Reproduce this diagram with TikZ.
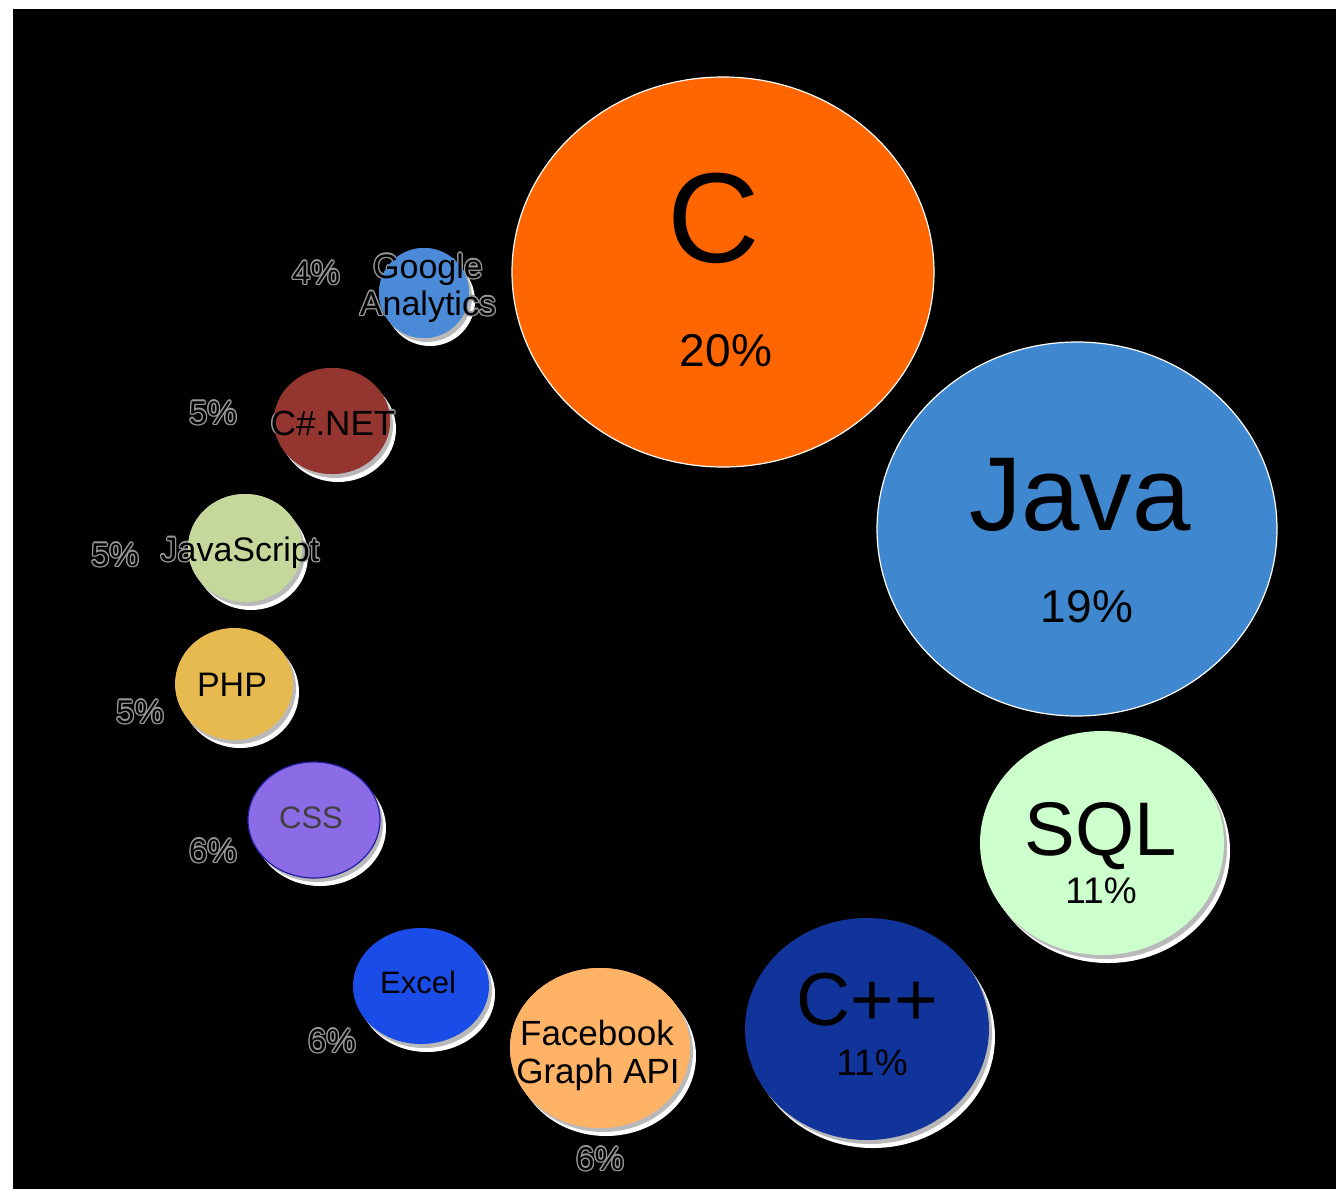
\documentclass[tikz,border=0pt]{standalone}
\usepackage{fontspec}
\setmainfont{Liberation Sans}
\definecolor{cC}{HTML}{FF6600}
\definecolor{cJava}{HTML}{3F88CF}
\definecolor{cSQL}{HTML}{CCFFCC}
\definecolor{cCpp}{HTML}{11349A}
\definecolor{cFB}{HTML}{FFB366}
\definecolor{cExcel}{HTML}{1A4CE8}
\definecolor{cCSS}{HTML}{8C6BE6}
\definecolor{cCSSline}{HTML}{2020A0}
\definecolor{cPHP}{HTML}{E6BA4E}
\definecolor{cJS}{HTML}{C5D79A}
\definecolor{cNET}{HTML}{943530}
\definecolor{cGA}{HTML}{4A8AD6}
\newcommand{\fsz}[1]{\fontsize{#1}{#1}\selectfont}
\tikzset{
  lbl/.style={anchor=base, inner sep=0pt, text=black},
  halo/.style={anchor=base, inner sep=0pt, text=gray!80},
  edge/.style={draw=white, line width=1.2pt},
}
% halo copies of a text: #1 x, #2 y, #3 size, #4 text
\newcommand{\halotext}[4]{%
  \foreach \dx/\dy in {-1.3/0,1.3/0,0/-1.3,0/1.3,-1/-1,1/1,-1/1,1/-1}{%
    \node[halo, font=\fsz{#3}] at (#1+\dx,#2+\dy) {#4};
  }%
}
\newcommand{\shadowed}[5]{%
  \fill[white] (#1+6,#2+8) ellipse [x radius=#3pt, y radius=#4pt];
  \fill[gray!55] (#1+3,#2+4) ellipse [x radius=#3pt, y radius=#4pt];
  \fill[#5] (#1,#2) ellipse [x radius=#3pt, y radius=#4pt];
}
\begin{document}
\begin{tikzpicture}[x=1pt,y=-1pt]
\useasboundingbox (0,0) rectangle (1336,1189);
\fill[white] (0,0) rectangle (1336,1189);
\fill[black] (13,9) rectangle (1336,1189);

% big bubbles
\fill[cC] (723,272) ellipse [x radius=211pt, y radius=195pt];
\draw[edge] (723,272) ellipse [x radius=211pt, y radius=195pt];
\fill[cJava] (1077,529) ellipse [x radius=200pt, y radius=187pt];
\draw[edge] (1077,529) ellipse [x radius=200pt, y radius=187pt];
\shadowed{1102}{843}{122}{112}{cSQL}
\shadowed{867}{1029}{122}{111}{cCpp}
\shadowed{600}{1048}{90}{80}{cFB}
\shadowed{421}{986}{68}{58}{cExcel}
\shadowed{314}{820}{66}{58}{cCSS}
\shadowed{234}{684}{59}{56}{cPHP}
\shadowed{245}{548}{57}{54}{cJS}
\shadowed{332}{421}{58}{53}{cNET}
\shadowed{424}{293}{45}{45}{cGA}

% halos of the texts that run over the bubble edges
\halotext{428}{278}{34}{Google}
\halotext{428}{315}{34}{Analytics}
\halotext{333}{435}{35}{C\#.NET}
\halotext{240}{561}{34}{JavaScript}
\halotext{598}{1083}{35}{Graph API}

% bubbles painted again over the halos
\fill[cGA] (424,293) ellipse [x radius=45pt, y radius=45pt];
\fill[cNET] (332,421) ellipse [x radius=58pt, y radius=53pt];
\fill[cJS] (245,548) ellipse [x radius=57pt, y radius=54pt];
\fill[cFB] (600,1048) ellipse [x radius=90pt, y radius=80pt];
\draw[cCSSline, line width=1.2pt] (314,820) ellipse [x radius=66pt, y radius=58pt];

% percentage labels (outlined look)
\halotext{600}{1170}{33}{6\%}
\halotext{332}{1052}{33}{6\%}
\halotext{213}{862}{33}{6\%}
\halotext{140}{723}{33}{5\%}
\halotext{115}{566}{33}{5\%}
\halotext{213}{424}{33}{5\%}
\halotext{316}{284}{33}{4\%}
\node[lbl, font=\fsz{33}] (pFB) at (600,1170) {6\%};
\node[lbl, font=\fsz{33}] (pExcel) at (332,1052) {6\%};
\node[lbl, font=\fsz{33}] (pCSS) at (213,862) {6\%};
\node[lbl, font=\fsz{33}] (pPHP) at (140,723) {5\%};
\node[lbl, font=\fsz{33}] (pJS) at (115,566) {5\%};
\node[lbl, font=\fsz{33}] (pNET) at (213,424) {5\%};
\node[lbl, font=\fsz{33}] (pGA) at (316,284) {4\%};

% texts
\node[lbl, font=\fsz{128}] (tC) at (714,262) {C};
\node[lbl, font=\fsz{46}] (pC) at (726,366) {20\%};
\node[lbl, font=\fsz{105}] (tJava) at (1080,530) {Java};
\node[lbl, font=\fsz{46}] (pJava) at (1087,622) {19\%};
\node[lbl, font=\fsz{76}] (tSQL) at (1101,855) {SQL};
\node[lbl, font=\fsz{37}] (pSQL) at (1101,903) {11\%};
\node[lbl, font=\fsz{75}] (tCpp) at (867,1025) {C++};
\node[lbl, font=\fsz{37}] (pCpp) at (872,1075) {11\%};
\node[lbl, font=\fsz{35}] (tFB1) at (597,1045) {Facebook};
\node[lbl, font=\fsz{35}] (tFB2) at (598,1083) {Graph API};
\node[lbl, font=\fsz{31}] (tExcel) at (418,993) {Excel};
\node[lbl, font=\fsz{31}, text=black!75] (tCSS) at (311,828) {CSS};
\node[lbl, font=\fsz{34}] (tPHP) at (232,696) {PHP};
\node[lbl, font=\fsz{34}] (tJS) at (240,561) {JavaScript};
\node[lbl, font=\fsz{35}] (tNET) at (333,435) {C\#.NET};
\node[lbl, font=\fsz{34}] (tGA1) at (428,278) {Google};
\node[lbl, font=\fsz{34}] (tGA2) at (428,315) {Analytics};
\end{tikzpicture}
\end{document}
